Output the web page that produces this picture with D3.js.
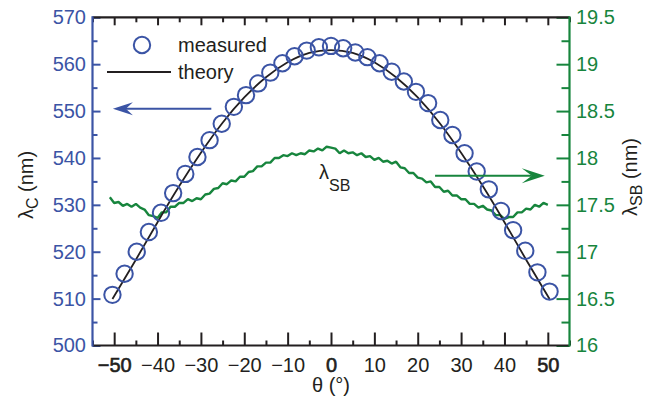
<!DOCTYPE html>
<html lang="en">
<head>
    <meta charset="UTF-8">
    <style>
        html, body { margin:0; height:100%; overflow:hidden; background:#fff; }
        svg { position:absolute; top:0; left:0; }
        text { font-family:"Liberation Sans", Arial, Helvetica, sans-serif; }
    </style>
    <script src="https://d3js.org/d3.v7.min.js"></script>
</head>
<body>
<svg width="649" height="401"></svg>
<script>
    // measured centre wavelength (left axis)
    var thetaMeasured = [-50.4, -47.6, -44.8, -42.0, -39.2, -36.4, -33.6, -30.8, -28.0, -25.2, -22.4, -19.6,
        -16.8, -14.0, -11.2, -8.4, -5.6, -2.8, 0, 2.8, 5.6, 8.4, 11.2, 14.0, 16.8, 19.6, 22.4, 25.2,
        28.0, 30.8, 33.6, 36.4, 39.2, 42.0, 44.8, 47.6, 50.4];
    var lambdaMeasured = [510.8, 515.3, 520.0, 524.2, 528.3, 532.5, 536.6, 540.2, 543.8, 547.3, 550.9, 553.4,
        555.9, 558.2, 560.2, 561.7, 562.9, 563.6, 563.9, 563.4, 562.5, 561.5, 560.2, 558.4, 556.3, 554.1, 551.7, 548.1,
        544.9, 541.0, 537.1, 533.3, 528.7, 524.6, 520.2, 515.6, 511.5];

    // theory curve (left axis)
    var thetaTheory = [-50.4, -45, -40, -35, -30, -25, -20, -15, -10, -5, 0, 5, 10, 15, 20, 25, 30, 35, 40, 45, 50.4];
    var lambdaTheory = [509.9, 518.3, 526.3, 534.0, 541.1, 547.5, 552.9, 557.2, 560.4, 562.4, 563.0,
        562.4, 560.4, 557.2, 552.9, 547.5, 541.1, 534.0, 526.3, 518.3, 509.9];

    // stop-band width (right axis)
    var thetaSB = [-51, -50, -49, -48, -47, -46, -45, -44, -43, -42, -41, -40, -39, -38, -37, -36, -35, -34, -33, -32, -31,
        -30, -29, -28, -27, -26, -25, -24, -23, -22, -21, -20, -19, -18, -17, -16, -15, -14, -13, -12, -11,
        -10, -9, -8, -7, -6, -5, -4, -3, -2, -1, 0, 1, 2, 3, 4, 5, 6, 7, 8, 9,
        10, 11, 12, 13, 14, 15, 16, 17, 18, 19, 20, 21, 22, 23, 24, 25, 26, 27, 28, 29,
        30, 31, 32, 33, 34, 35, 36, 37, 38, 39, 40, 41, 42, 43, 44, 45, 46, 47, 48, 49, 50];
    var lambdaSB = [17.58, 17.52, 17.53, 17.49, 17.51, 17.48, 17.51, 17.47, 17.45, 17.39, 17.38, 17.36, 17.42, 17.42, 17.48, 17.48, 17.52, 17.52, 17.56, 17.54, 17.57,
        17.56, 17.61, 17.62, 17.67, 17.68, 17.73, 17.72, 17.76, 17.75, 17.80, 17.80, 17.85, 17.86, 17.91, 17.91, 17.95, 17.95, 18.00, 18.00, 18.03,
        18.02, 18.05, 18.03, 18.05, 18.04, 18.08, 18.07, 18.10, 18.08, 18.12, 18.11, 18.10, 18.05, 18.08, 18.05, 18.06, 18.03, 18.05, 18.01, 18.02,
        17.98, 18.00, 17.96, 17.97, 17.94, 17.96, 17.90, 17.89, 17.84, 17.84, 17.79, 17.78, 17.74, 17.75, 17.69, 17.69, 17.64, 17.65, 17.60, 17.60,
        17.56, 17.56, 17.51, 17.51, 17.47, 17.49, 17.45, 17.44, 17.39, 17.39, 17.35, 17.37, 17.37, 17.42, 17.42, 17.46, 17.45, 17.50, 17.48, 17.52, 17.50];

    var xTicks = [-50, -40, -30, -20, -10, 0, 10, 20, 30, 40, 50];
    var xMinorTicks = [-55, -45, -35, -25, -15, -5, 5, 15, 25, 35, 45, 55];
    var yLeftTicks = [500, 510, 520, 530, 540, 550, 560, 570];
    var yLeftMinor = [505, 515, 525, 535, 545, 555, 565];
    var yRightTicks = [16, 16.5, 17, 17.5, 18, 18.5, 19, 19.5];
    var yRightMinor = [16.25, 16.75, 17.25, 17.75, 18.25, 18.75, 19.25];

    var blue = "#3b54a5";
    var green = "#17853d";
    var ink = "#231f20";

    var svg = d3.select("svg");
    var pLeft = 92.5, pRight = 569.5, pTop = 17.3, pBottom = 345.5;

    var x = d3.scaleLinear().domain([-55, 55]).range([pLeft, pRight]);
    var yL = d3.scaleLinear().domain([500, 570]).range([pBottom, pTop]);
    var yR = d3.scaleLinear().domain([16, 19.5]).range([pBottom, pTop]);

    function style(g, color) {
        g.select(".domain").remove();
        g.selectAll(".tick line").attr("stroke", color).attr("stroke-width", 2);
        g.selectAll(".tick text").attr("fill", color).style("font-size", "20px");
    }

    // minor ticks
    svg.append("g").attr("transform", "translate(0," + pBottom + ")")
        .call(d3.axisBottom(x).tickValues(xMinorTicks).tickSize(-5).tickFormat(""))
        .call(style, ink);
    svg.append("g").attr("transform", "translate(0," + pTop + ")")
        .call(d3.axisTop(x).tickValues(xMinorTicks).tickSize(-5).tickFormat(""))
        .call(style, ink);
    svg.append("g").attr("transform", "translate(" + pLeft + ",0)")
        .call(d3.axisLeft(yL).tickValues(yLeftMinor).tickSize(-5).tickFormat(""))
        .call(style, blue);
    svg.append("g").attr("transform", "translate(" + pRight + ",0)")
        .call(d3.axisRight(yR).tickValues(yRightMinor).tickSize(-8).tickFormat(""))
        .call(style, green);

    // major ticks
    var gx = svg.append("g").attr("transform", "translate(0," + pBottom + ")")
        .call(d3.axisBottom(x).tickValues(xTicks).tickSize(-13).tickPadding(12.5))
        .call(style, ink);
    gx.selectAll(".tick text")
        .filter(function(d) { return d === -50 || d === 0 || d === 50; })
        .attr("stroke", ink).attr("stroke-width", 0.6);
    svg.append("g").attr("transform", "translate(0," + pTop + ")")
        .call(d3.axisTop(x).tickValues(xTicks).tickSize(-8).tickFormat(""))
        .call(style, ink);
    svg.append("g").attr("transform", "translate(" + pLeft + ",0)")
        .call(d3.axisLeft(yL).tickValues(yLeftTicks).tickSize(-8).tickPadding(6.5))
        .call(style, blue);
    svg.append("g").attr("transform", "translate(" + pRight + ",0)")
        .call(d3.axisRight(yR).tickValues(yRightTicks).tickSize(-13).tickPadding(6.5).tickFormat(d3.format("")))
        .call(style, green);

    // frame
    svg.append("line").attr("x1", pLeft).attr("x2", pRight).attr("y1", pTop).attr("y2", pTop)
        .attr("stroke", ink).attr("stroke-width", 2.2);
    svg.append("line").attr("x1", pLeft).attr("x2", pRight).attr("y1", pBottom).attr("y2", pBottom)
        .attr("stroke", ink).attr("stroke-width", 2.2);
    svg.append("line").attr("x1", pLeft).attr("x2", pLeft).attr("y1", pTop - 1).attr("y2", pBottom + 1)
        .attr("stroke", blue).attr("stroke-width", 2.2);
    svg.append("line").attr("x1", pRight).attr("x2", pRight).attr("y1", pTop - 1).attr("y2", pBottom + 1)
        .attr("stroke", green).attr("stroke-width", 2.2);

    // stop band trace
    svg.append("path")
        .datum(thetaSB.map(function(t, i) { return [t, lambdaSB[i]]; }))
        .attr("fill", "none").attr("stroke", green).attr("stroke-width", 2.4)
        .attr("stroke-linejoin", "bevel")
        .attr("d", d3.line().x(function(d) { return x(d[0]); }).y(function(d) { return yR(d[1]); }));

    // theory line
    svg.append("path")
        .datum(thetaTheory.map(function(t, i) { return [t, lambdaTheory[i]]; }))
        .attr("fill", "none").attr("stroke", ink).attr("stroke-width", 1.8)
        .attr("d", d3.line().curve(d3.curveNatural)
            .x(function(d) { return x(d[0]); }).y(function(d) { return yL(d[1]); }));

    // measured points
    svg.selectAll(".pt")
        .data(thetaMeasured.map(function(t, i) { return [t, lambdaMeasured[i]]; }))
        .enter().append("circle")
        .attr("class", "pt")
        .attr("cx", function(d) { return x(d[0]); })
        .attr("cy", function(d) { return yL(d[1]); })
        .attr("r", 8.2)
        .attr("fill", "none").attr("stroke", blue).attr("stroke-width", 2);

    // legend
    svg.append("circle").attr("cx", 142).attr("cy", 45).attr("r", 8.2)
        .attr("fill", "none").attr("stroke", blue).attr("stroke-width", 2);
    svg.append("text").attr("x", 178).attr("y", 52).attr("fill", ink)
        .style("font-size", "20px").text("measured");
    svg.append("line").attr("x1", 107).attr("x2", 171).attr("y1", 72).attr("y2", 72)
        .attr("stroke", ink).attr("stroke-width", 1.8);
    svg.append("text").attr("x", 178).attr("y", 78.5).attr("fill", ink)
        .style("font-size", "20px").text("theory");

    // arrows
    function arrow(x1, x2, y, color, len, notch, half) {
        var dir = x2 < x1 ? 1 : -1;
        svg.append("line").attr("x1", x1).attr("x2", x2 + dir * notch).attr("y1", y).attr("y2", y)
            .attr("stroke", color).attr("stroke-width", 2);
        svg.append("path").attr("fill", color)
            .attr("d", "M" + x2 + "," + y + "L" + (x2 + dir * len) + "," + (y - half) +
                "L" + (x2 + dir * notch) + "," + y + "L" + (x2 + dir * len) + "," + (y + half) + "Z");
    }
    arrow(x(-27.6), x(-50.3), yL(550.5), blue, 20, 13, 6.5);
    arrow(x(24), x(49.3), yR(17.81), green, 23, 13, 7.5);

    // lambda_SB annotation
    var sb = svg.append("text").attr("x", 319).attr("y", 179).attr("fill", ink).style("font-size", "20px");
    sb.append("tspan").text("λ");
    sb.append("tspan").attr("dy", 12).style("font-size", "16px").text("SB");

    // axis titles
    var ly = svg.append("text").attr("transform", "translate(33,185) rotate(-90)")
        .attr("text-anchor", "middle").attr("fill", ink).style("font-size", "20px");
    ly.append("tspan").text("λ");
    ly.append("tspan").attr("dy", 5).style("font-size", "16px").text("C");
    ly.append("tspan").attr("dy", -5).text(" (nm)");

    var ry = svg.append("text").attr("transform", "translate(637,177) rotate(-90)")
        .attr("text-anchor", "middle").attr("fill", ink).style("font-size", "20px");
    ry.append("tspan").text("λ");
    ry.append("tspan").attr("dy", 5).style("font-size", "16px").text("SB");
    ry.append("tspan").attr("dy", -5).text(" (nm)");

    svg.append("text").attr("x", x(0)).attr("y", 392).attr("text-anchor", "middle")
        .attr("fill", ink).style("font-size", "20px").text("θ (°)");
</script>
</body>
</html>
